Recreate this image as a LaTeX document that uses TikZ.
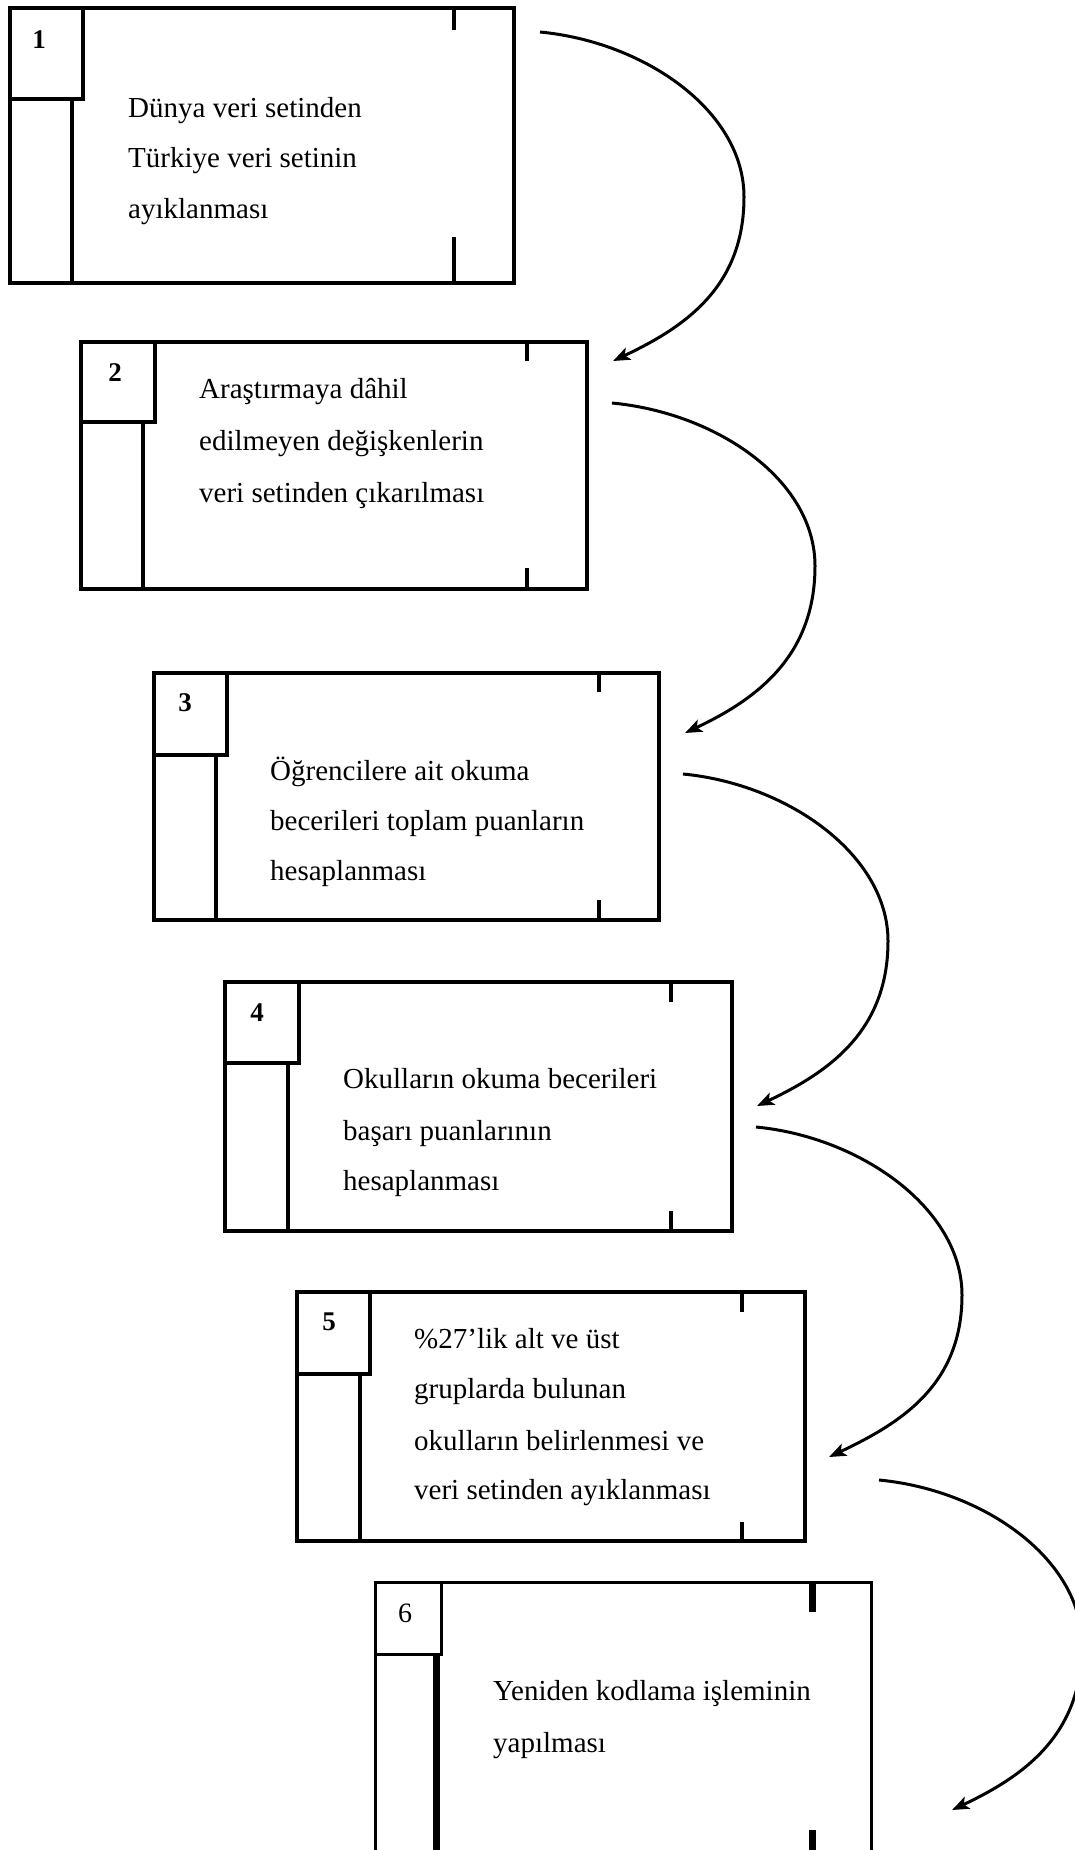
\documentclass[tikz,border=0pt]{standalone}
\usepackage{fontspec}
\setmainfont{Liberation Serif}
\usetikzlibrary{arrows.meta}
\begin{document}
\begin{tikzpicture}[x=1pt,y=-1pt,
  frame/.style={draw, line width=3.8pt, inner sep=0pt, outer sep=0pt, anchor=north west},
  part/.style={line width=3.3pt},
  tick/.style={line width=3.6pt},
  num/.style={font=\bfseries\fontsize{27pt}{27pt}\selectfont, inner sep=0pt},
  body/.style={font=\fontsize{29pt}{29pt}\selectfont, inner sep=0pt, anchor=base west},
  arr/.style={line width=3pt, -{Stealth[length=17pt,width=13pt,inset=4pt]}},
  thinframe/.style={frame, line width=3pt},
  thickpart/.style={line width=7pt}
]
\useasboundingbox (0,0) rectangle (1075,1850);
\clip (0,0) rectangle (1075,1850);
\fill[white] (0,0) rectangle (1075,1850);

% ---- Box 1
\node[frame, minimum width=504, minimum height=275] (b1) at (10,8) {};
\draw[part] (10,8) rectangle (83,99);
\draw[part] (72,99) -- (72,283);
\draw[tick] (454,8) -- (454,30);
\draw[tick] (454,237) -- (454,283);
\node[num] (n1) at (39,40) {1};
\node[body] (t1a) at (128,117) {Dünya veri setinden};
\node[body] (t1b) at (128,167) {Türkiye veri setinin};
\node[body] (t1c) at (128,218) {ayıklanması};

% ---- Box 2
\node[frame, minimum width=506, minimum height=247] (b2) at (81,342) {};
\draw[part] (81,342) rectangle (155,422);
\draw[part] (143,422) -- (143,589);
\draw[tick] (527,342) -- (527,361);
\draw[tick] (527,568) -- (527,589);
\node[num] (n2) at (115,373) {2};
\node[body] (t2a) at (199,398) {Araştırmaya dâhil};
\node[body] (t2b) at (199,450) {edilmeyen değişkenlerin};
\node[body] (t2c) at (199,502) {veri setinden çıkarılması};

% ---- Box 3
\node[frame, minimum width=505, minimum height=247] (b3) at (154,673) {};
\draw[part] (154,673) rectangle (227,755);
\draw[part] (216,755) -- (216,920);
\draw[tick] (599,673) -- (599,692);
\draw[tick] (599,900) -- (599,920);
\node[num] (n3) at (185,703) {3};
\node[body] (t3a) at (270,780) {Öğrencilere ait okuma};
\node[body] (t3b) at (270,830) {becerileri toplam puanların};
\node[body] (t3c) at (270,880) {hesaplanması};

% ---- Box 4
\node[frame, minimum width=507, minimum height=249] (b4) at (225,982) {};
\draw[part] (225,982) rectangle (299,1063);
\draw[part] (288,1063) -- (288,1231);
\draw[tick] (671,982) -- (671,1002);
\draw[tick] (671,1211) -- (671,1231);
\node[num] (n4) at (257,1013) {4};
\node[body] (t4a) at (343,1088) {Okulların okuma becerileri};
\node[body] (t4b) at (343,1140) {başarı puanlarının};
\node[body] (t4c) at (343,1190) {hesaplanması};

% ---- Box 5
\node[frame, minimum width=508, minimum height=249] (b5) at (297,1292) {};
\draw[part] (297,1292) rectangle (370,1374);
\draw[part] (360,1374) -- (360,1541);
\draw[tick] (742,1292) -- (742,1312);
\draw[tick] (742,1522) -- (742,1541);
\node[num] (n5) at (329,1322) {5};
\node[body] (t5a) at (414,1348) {\%27’lik alt ve üst};
\node[body] (t5b) at (414,1398) {gruplarda bulunan};
\node[body] (t5c) at (414,1450) {okulların belirlenmesi ve};
\node[body] (t5d) at (414,1499) {veri setinden ayıklanması};

% ---- Box 6
\node[thinframe, minimum width=496, minimum height=300] (b6) at (375,1582) {};
\draw[line width=3pt] (375,1582) rectangle (441,1654);
\draw[thickpart] (436,1654) -- (436,1890);
\draw[thickpart] (812,1582) -- (812,1612);
\draw[thickpart] (812,1830) -- (812,1890);
\node[num, font=\fontsize{28pt}{28pt}\selectfont] (n6) at (405,1613) {6};
\node[body] (t6a) at (493,1700) {Yeniden kodlama işleminin};
\node[body] (t6b) at (493,1752) {yapılması};

% ---- Arrows
\coordinate (a1s) at (540,32);   \coordinate (a1m) at (744,197);  \coordinate (a1e) at (613,361);
\coordinate (a2s) at (612,403);  \coordinate (a2m) at (815,566);  \coordinate (a2e) at (685,733);
\coordinate (a3s) at (683,774);  \coordinate (a3m) at (888,941);  \coordinate (a3e) at (757,1106);
\coordinate (a4s) at (756,1127); \coordinate (a4m) at (962,1295); \coordinate (a4e) at (829,1457);
\coordinate (a5s) at (879,1480); \coordinate (a5m) at (1082,1645);\coordinate (a5e) at (952,1810);

\foreach \i in {1,...,5}{
  \draw[arr] (a\i s) .. controls +(105,10) and +(0,-86) .. (a\i m)
        .. controls +(0,90) and +(72,-34) .. (a\i e);
}
\end{tikzpicture}
\end{document}
